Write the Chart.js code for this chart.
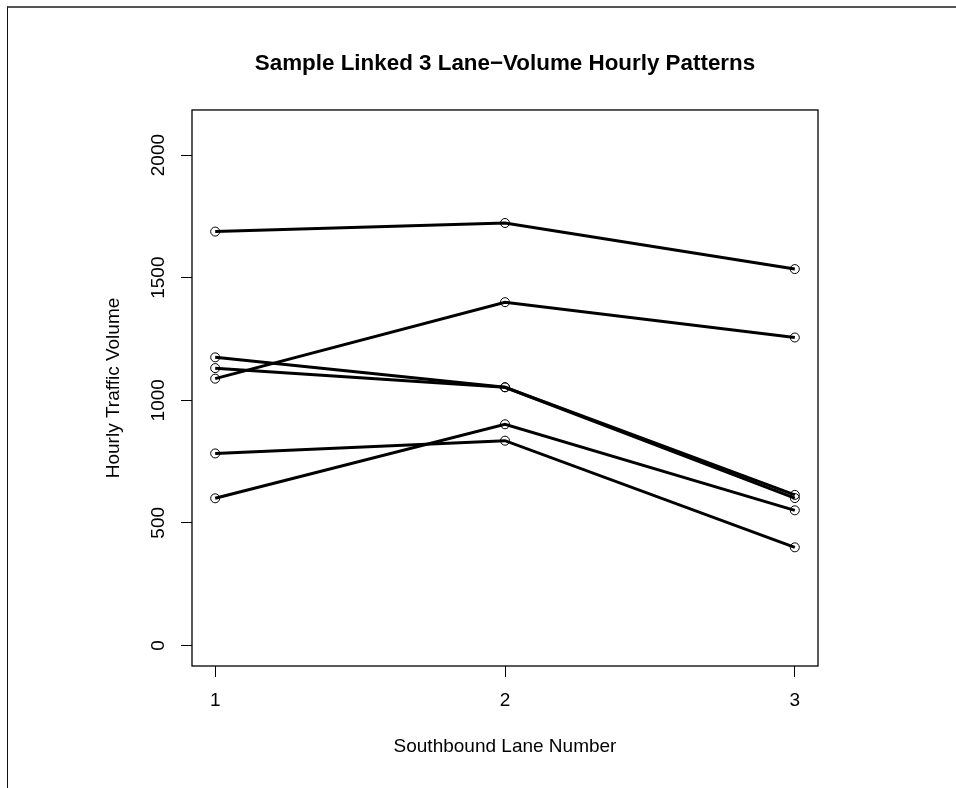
<!DOCTYPE html>
<html>
<head>
<meta charset="utf-8">
<script src="https://cdn.jsdelivr.net/npm/chart.js@4/dist/chart.umd.min.js"></script>
<style>
    body { margin: 0; background: #fff; }
    #wrap { position: relative; width: 956px; height: 788px; overflow: hidden; }
    #frame { position: absolute; left: 7px; top: 6px; width: 1000px; height: 1000px;
             border-top: 2px solid #555; border-left: 1.5px solid #111; }
    canvas { position: absolute; left: 0; top: 0; }
</style>
</head>
<body>
<div id="wrap">
    <div id="frame"></div>
    <canvas id="chart" width="956" height="788"></canvas>
</div>
<script>
// lane numbers on the x axis
const lanes = [1, 2, 3];
// hourly volumes, one linked pattern per array
const pattern1 = [1688, 1723, 1535];
const pattern2 = [1088, 1400, 1256];
const pattern3 = [1175, 1053, 614];
const pattern4 = [1131, 1053, 601];
const pattern5 = [783, 835, 400];
const pattern6 = [600, 902, 551];
const patterns = [pattern1, pattern2, pattern3, pattern4, pattern5, pattern6];

const yTicks = [0, 500, 1000, 1500, 2000];
const xTicks = [1, 2, 3];

const FONT = "'Liberation Sans', Arial, Helvetica, sans-serif";

// box round the plot region, like R's bty="o"
const plotBox = {
    id: "plotBox",
    afterDraw(chart) {
        const a = chart.chartArea;
        const ctx = chart.ctx;
        ctx.save();
        ctx.strokeStyle = "#000";
        ctx.lineWidth = 1.3;
        ctx.strokeRect(a.left, a.top, a.right - a.left, a.bottom - a.top);
        ctx.restore();
    }
};

new Chart(document.getElementById("chart"), {
    type: "line",
    data: {
        datasets: patterns.map(p => ({
            data: p.map((v, i) => ({ x: lanes[i], y: v })),
            borderColor: "#000",
            borderWidth: 3,
            pointStyle: "circle",
            pointRadius: 4.5,
            pointBorderWidth: 1,
            pointBorderColor: "#000",
            pointBackgroundColor: "rgba(0,0,0,0)",
            tension: 0
        }))
    },
    options: {
        responsive: false,
        animation: false,
        layout: { padding: { left: 0, right: 138, top: 0, bottom: 0 } },
        plugins: {
            legend: { display: false },
            tooltip: { enabled: false },
            title: {
                display: true,
                fullSize: false,
                text: "Sample Linked 3 Lane\u2212Volume Hourly Patterns",
                color: "#000",
                font: { family: FONT, size: 22.4, weight: "bold", lineHeight: 1.2 },
                padding: { top: 50.5, bottom: 32.6 }
            }
        },
        scales: {
            x: {
                type: "linear",
                min: 0.92,
                max: 3.08,
                afterBuildTicks: s => { s.ticks = xTicks.map(v => ({ value: v })); },
                afterFit: s => { s.height = 122; },
                border: { display: false },
                grid: { drawOnChartArea: false, drawTicks: true, tickLength: 11, color: "#000", tickColor: "#000", lineWidth: 1 },
                ticks: { color: "#000", font: { family: FONT, size: 19 }, padding: 12, maxRotation: 0,
                         callback: v => String(v) },
                title: {
                    display: true,
                    text: "Southbound Lane Number",
                    color: "#000",
                    font: { family: FONT, size: 19, lineHeight: 1.2 },
                    padding: { top: 0, bottom: 30 }
                }
            },
            y: {
                type: "linear",
                min: -84,
                max: 2184,
                afterBuildTicks: s => { s.ticks = yTicks.map(v => ({ value: v })); },
                afterFit: s => { s.width = 192; },
                border: { display: false },
                grid: { drawOnChartArea: false, drawTicks: true, tickLength: 11, color: "#000", tickColor: "#000", lineWidth: 1 },
                ticks: { color: "#000", font: { family: FONT, size: 19 }, padding: 1, minRotation: 90, maxRotation: 90,
                         crossAlign: "center", callback: v => String(v) },
                title: {
                    display: true,
                    text: "Hourly Traffic Volume",
                    color: "#000",
                    font: { family: FONT, size: 19, lineHeight: 1.2 },
                    padding: { top: 102, bottom: 0 }
                }
            }
        }
    },
    plugins: [plotBox]
});
</script>
</body>
</html>
